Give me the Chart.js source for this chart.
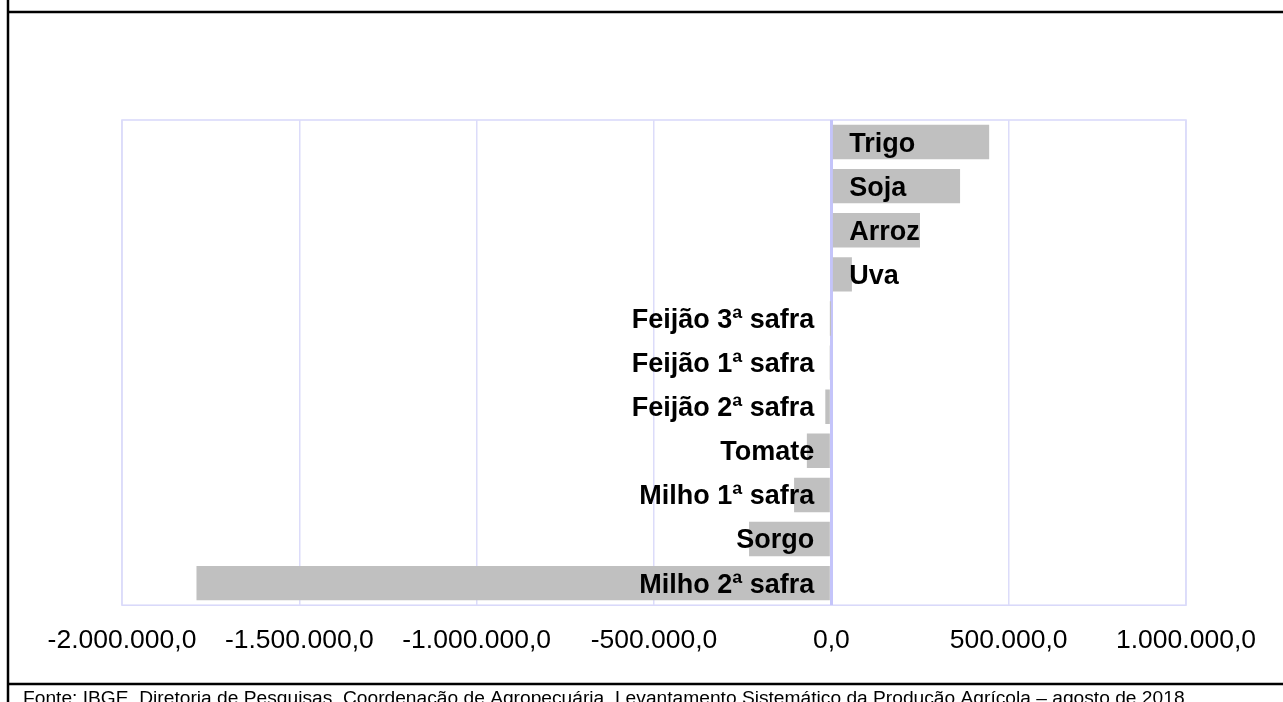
<!DOCTYPE html>
<html>
<head>
<meta charset="utf-8">
<script src="https://cdn.jsdelivr.net/npm/chart.js@4/dist/chart.umd.min.js"></script>
<style>
  html, body { margin: 0; padding: 0; background: #fff; }
  #wrap { width: 1283px; height: 702px; position: relative; }
</style>
</head>
<body>
<div id="wrap"><canvas id="grafico"></canvas></div>
<script>
// produtos e variação (toneladas), de cima para baixo
const produtos = ["Trigo", "Soja", "Arroz", "Uva", "Feijão 3ª safra", "Feijão 1ª safra",
  "Feijão 2ª safra", "Tomate", "Milho 1ª safra", "Sorgo", "Milho 2ª safra"];
const variacao = [445000, 363000, 250000, 58000, -1000, -5000, -17000, -69000, -105000, -232000, -1790000];
const eixoMin = -2000000;
const eixoMax = 1000000;
const passo = 500000;
const fonte = "Fonte: IBGE, Diretoria de Pesquisas, Coordenação de Agropecuária, Levantamento Sistemático da Produção Agrícola – agosto de 2018.";

const FAMILIA = '"Liberation Sans", Arial, sans-serif';

function formatarBR(v) {
  const neg = v < 0;
  const inteiro = Math.abs(Math.round(v)).toString().replace(/\B(?=(\d{3})+(?!\d))/g, ".");
  return (neg ? "-" : "") + inteiro + ",0";
}

const moldura = {
  id: "moldura",
  beforeDraw(chart) {
    const { ctx, chartArea: a } = chart;
    ctx.save();
    ctx.strokeStyle = "#d8d8fa";
    ctx.lineWidth = 1.5;
    ctx.strokeRect(a.left, a.top, a.right - a.left, a.bottom - a.top);
    ctx.restore();
  },
  afterDraw(chart) {
    const ctx = chart.ctx;
    ctx.save();
    ctx.strokeStyle = "#000";
    ctx.lineWidth = 2.5;
    ctx.beginPath();
    ctx.moveTo(8, 0); ctx.lineTo(8, 702);
    ctx.moveTo(8, 12); ctx.lineTo(1283, 12);
    ctx.moveTo(8, 684); ctx.lineTo(1283, 684);
    ctx.stroke();
    ctx.fillStyle = "#000";
    ctx.font = "19.2px " + FAMILIA;
    ctx.textBaseline = "alphabetic";
    ctx.fillText(fonte, 23, 704);
    ctx.restore();
  }
};

const rotulos = {
  id: "rotulos",
  afterDatasetsDraw(chart) {
    const { ctx } = chart;
    const zero = chart.scales.x.getPixelForValue(0);
    const meta = chart.getDatasetMeta(0);
    ctx.save();
    ctx.fillStyle = "#000";
    ctx.font = "bold 27px " + FAMILIA;
    ctx.textBaseline = "middle";
    meta.data.forEach((bar, i) => {
      if (variacao[i] > 0) {
        ctx.textAlign = "left";
        ctx.fillText(produtos[i], zero + 18, bar.y + 2);
      } else {
        ctx.textAlign = "right";
        ctx.fillText(produtos[i], zero - 17, bar.y + 2);
      }
    });
    ctx.restore();
  }
};

new Chart(document.getElementById("grafico"), {
  type: "bar",
  data: {
    labels: produtos,
    datasets: [{
      data: variacao,
      backgroundColor: "#c0c0c0",
      borderWidth: 0,
      categoryPercentage: 1,
      barPercentage: 0.78
    }]
  },
  options: {
    indexAxis: "y",
    responsive: true,
    maintainAspectRatio: false,
    animation: false,
    layout: { padding: { left: 122, right: 97, top: 120, bottom: 25 } },
    plugins: { legend: { display: false }, tooltip: { enabled: false } },
    scales: {
      x: {
        min: eixoMin,
        max: eixoMax,
        border: { display: false },
        grid: {
          drawTicks: false,
          color: c => c.tick && c.tick.value === 0 ? "#c4c4fa" : "#dcdcfa",
          lineWidth: c => c.tick && c.tick.value === 0 ? 3 : 1.5
        },
        ticks: {
          stepSize: passo,
          padding: 20,
          maxRotation: 0,
          autoSkip: false,
          color: "#000",
          font: { family: FAMILIA, size: 26.5 },
          callback: v => formatarBR(v)
        }
      },
      y: {
        display: false,
        grid: { display: false }
      }
    }
  },
  plugins: [moldura, rotulos]
});
</script>
</body>
</html>
